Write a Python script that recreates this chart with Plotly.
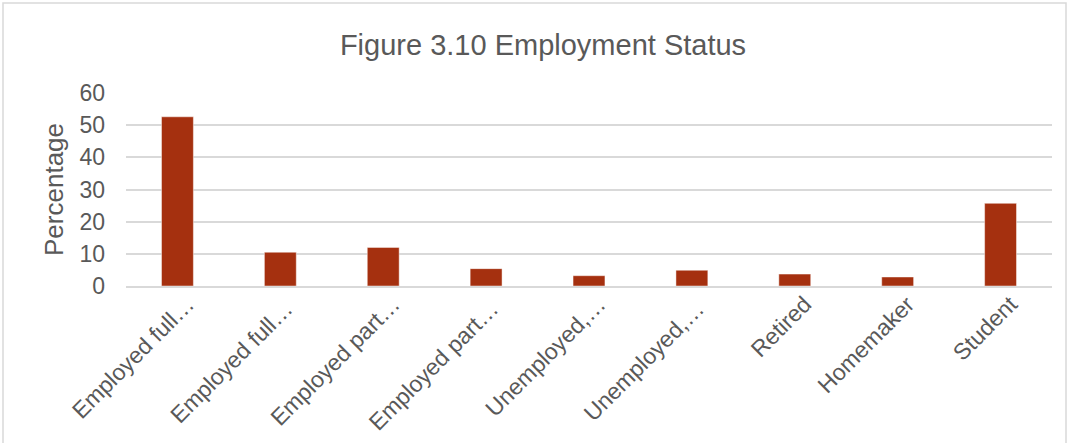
import plotly.graph_objects as go

# Employment status shares (percent of respondents)
categories = [
    "Employed full…", "Employed full… ", "Employed part…", "Employed part… ",
    "Unemployed,…", "Unemployed,… ", "Retired", "Homemaker", "Student",
]
percentages = [52.6, 10.5, 12.0, 5.4, 3.2, 4.9, 3.7, 2.8, 25.7]
y_ticks = [0, 10, 20, 30, 40, 50, 60]

text_color = "#595959"
grid_color = "#D9D9D9"
bar_color = "#A5300F"

W, H = 1069, 443
ml, mr, mt, mb = 126, 17, 93, 157
pw = W - ml - mr
ph = H - mt - mb


def px_to_paper_x(px):
    return (px - ml) / pw


def px_to_paper_y(py):
    return (H - mb - py) / ph


fig = go.Figure(
    go.Bar(
        x=categories,
        y=percentages,
        marker=dict(color=bar_color, line=dict(color="rgba(255,255,255,0.45)", width=1)),
        hoverinfo="x+y",
    )
)

fig.update_layout(
    width=W,
    height=H,
    margin=dict(l=ml, r=mr, t=mt, b=mb, autoexpand=False),
    paper_bgcolor="white",
    plot_bgcolor="white",
    bargap=0.69,
    showlegend=False,
    font=dict(family="Liberation Sans, Arial, sans-serif", color=text_color),
    title=dict(
        text="Figure 3.10 Employment Status",
        x=543 / W, xanchor="center",
        y=1 - 45 / H, yanchor="middle",
        font=dict(size=29, color=text_color),
    ),
    xaxis=dict(
        type="category",
        tickangle=-45,
        tickfont=dict(size=23, color=text_color),
        ticklabelshift=10,
        ticklabelstandoff=-6,
        showgrid=False,
        showline=True,
        linecolor=grid_color,
        linewidth=1.5,
        ticks="",
        zeroline=False,
    ),
    yaxis=dict(
        range=[0, 60],
        tickvals=y_ticks,
        tickfont=dict(size=23, color=text_color),
        showgrid=True,
        gridcolor=grid_color,
        gridwidth=1.5,
        zeroline=False,
        ticks="",
        ticklabelstandoff=20,
        title=dict(text="Percentage", font=dict(size=26, color=text_color), standoff=8),
    ),
    shapes=[
        dict(
            type="rect",
            xref="paper", yref="paper",
            x0=px_to_paper_x(3), x1=px_to_paper_x(W - 3),
            y0=px_to_paper_y(H + 5), y1=px_to_paper_y(3),
            line=dict(color=grid_color, width=1.5),
            fillcolor="rgba(0,0,0,0)",
            layer="below",
        )
    ],
)

fig.write_html("out.html")
